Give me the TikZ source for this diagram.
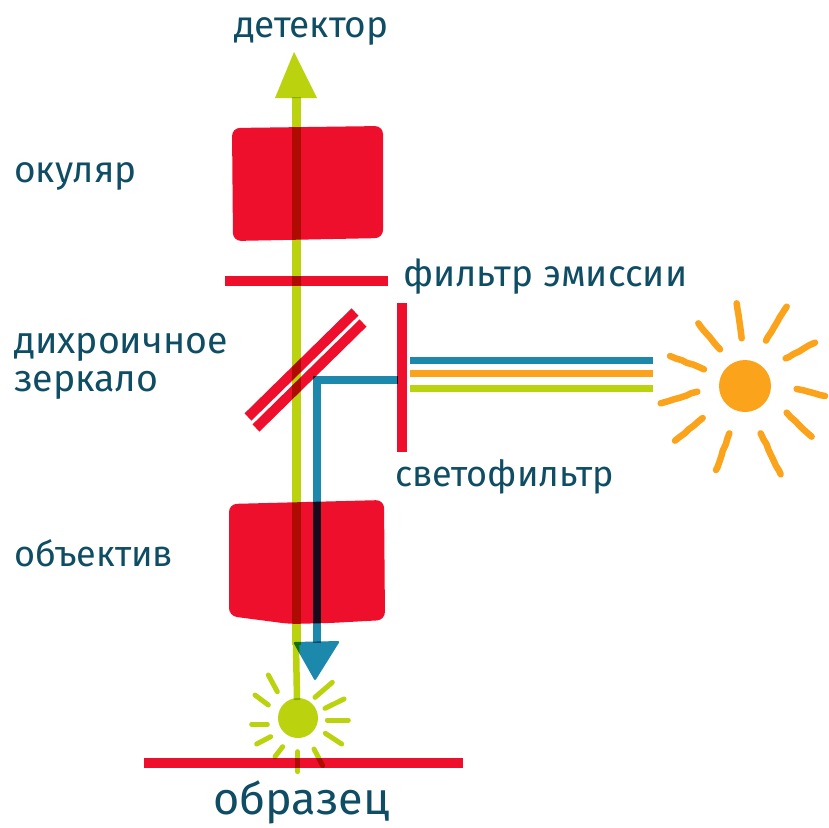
\documentclass[tikz,border=0pt]{standalone}
\usepackage{fontspec}
\setmainfont{Fira Sans}
\usetikzlibrary{decorations.pathmorphing}
\definecolor{tred}{HTML}{EE0F2C}
\definecolor{tgreen}{HTML}{BBD20F}
\definecolor{tblue}{HTML}{1C88AC}
\definecolor{torange}{HTML}{FBA31B}
\definecolor{ttext}{HTML}{0F4D64}
\tikzset{
  lbl/.style={text=ttext,font=\fontsize{37}{40}\selectfont,inner sep=0pt,anchor=west},
  redbar/.style={draw=tred,line width=10pt},
  lensbox/.style={fill=tred,rounded corners=8pt},
  orray/.style={draw=torange,line width=6.5pt,line cap=round,decorate,decoration={random steps,segment length=6pt,amplitude=.5pt}},
  grray/.style={draw=tgreen,line width=5pt,line cap=round}
}
\begin{document}
\begin{tikzpicture}[x=1pt,y=-1pt]
\useasboundingbox (0,0) rectangle (828,828);
\fill[white] (0,0) rectangle (828,828);
\begin{scope}[blend mode=multiply]
\coordinate (gtop) at (296,97);
\coordinate (gmid) at (296,645);
\coordinate (gbot) at (297,700);
\coordinate (bcorner) at (317,380);
\coordinate (bstart) at (398,380);
\coordinate (bend) at (317,643);
% green path with arrow head
\draw[tgreen,line width=9pt] (gtop) -- (gmid);
\draw[tgreen,line width=6.5pt] (gmid) -- (gbot);
\fill[tgreen] (294,52) -- (317,98) -- (275,98) -- cycle;
% small sun
\fill[tgreen] (298,718) circle (20pt);
\foreach \a/\b/\c/\d in {385/225/412/275,345/285/385/315,335/372/382/372,350/432/392/410,405/470/428/440,473/455/473/515,522/447/548/497,556/400/605/432,562/360/625/360,555/325/612/297,525/292/577/247}
  \draw[grray] ({140+\a/3},{600+\b/3}) -- ({140+\c/3},{600+\d/3});
% blue path
\draw[tblue,line width=7.5pt,line join=miter] (bstart) -- (bcorner) -- (bend);
\fill[tblue,rounded corners=2pt] (293,642) -- (340,641) -- (315,681) -- cycle;
% reds
\fill[lensbox] (232,128) -- (383,126) -- (383,238) -- (233,241) -- cycle;
\fill[lensbox] (229,504) -- (384,500) -- (385,620) -- (330,623) -- (290,624) -- (229,616) -- cycle;
\draw[redbar] (225,281) -- (388,281);
\draw[redbar] (248,417) -- (355,312);
\draw[redbar] (256,428) -- (363,323);
\draw[redbar] (402,303) -- (402,452);
\draw[redbar] (144,763) -- (463,763);
\end{scope}
% source beams
\draw[tblue,line width=7pt] (410,360) -- (653,360);
\draw[torange,line width=7pt] (410,373) -- (653,373);
\draw[tgreen,line width=7pt] (410,388) -- (653,388);
% big sun
\fill[torange] (745,386) circle (26pt);
\foreach \a/\b/\c/\d in {290/40/305/145,440/50/378/152,525/158/437/205,470/297/555/318,440/368/515/440,362/430/422/553,268/430/228/540,188/384/105/452,172/305/62/340,192/238/90/198,175/100/240/178}
  \draw[orray] ({640+\a/3},{290+\b/3}) -- ({640+\c/3},{290+\d/3});
% labels
\node[lbl] (det) at (234,31) {детектор};
\node[lbl] (oku) at (14,176) {окуляр};
\node[lbl] (emi) at (403,277) {фильтр эмиссии};
\node[lbl,font=\fontsize{37.5}{40}\selectfont] (dih) at (14,347) {дихроичное};
\node[lbl,font=\fontsize{37.5}{40}\selectfont] (zer) at (14,385) {зеркало};
\node[lbl,font=\fontsize{36}{40}\selectfont] (svf) at (395,477) {светофильтр};
\node[lbl,font=\fontsize{36}{40}\selectfont] (obj) at (14,553) {объектив};
\node[lbl,font=\fontsize{45}{48}\selectfont] (obr) at (213,802) {образец};
\end{tikzpicture}
\end{document}
